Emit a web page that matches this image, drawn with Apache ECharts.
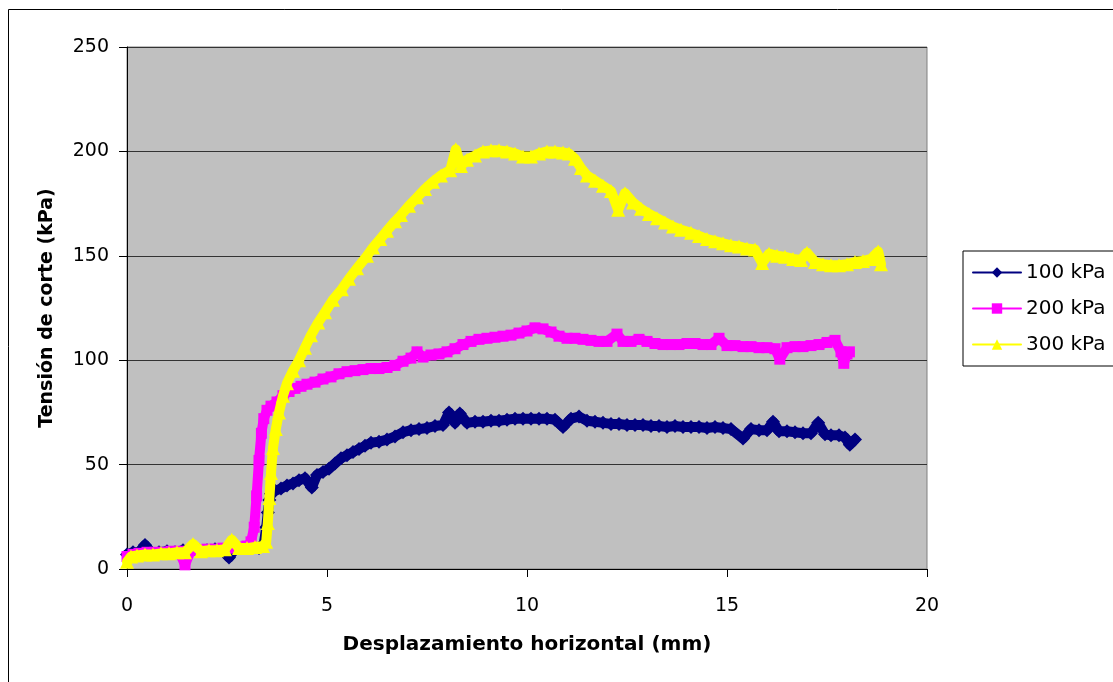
<!DOCTYPE html>
<html>
<head>
<meta charset="utf-8">
<script src="https://cdn.jsdelivr.net/npm/echarts@6/dist/echarts.min.js"></script>
<style>html,body{margin:0;padding:0;background:#fff}#c{width:1113px;height:682px}</style>
</head>
<body>
<div id="c"></div>
<script>
// ---- Data ----
const seriesNames = ['100 kPa', '200 kPa', '300 kPa'];
const xTicks = [0, 5, 10, 15, 20];
const yTicks = [0, 50, 100, 150, 200, 250];

const x100 = [0.00,0.15,0.30,0.45,0.60,0.80,1.00,1.20,1.40,1.60,1.80,2.00,2.20,2.40,2.55,2.70,2.90,3.10,3.30,3.42,3.48,3.52,3.56,3.60,3.70,3.85,4.00,4.15,4.30,4.45,4.62,4.75,4.90,5.05,5.20,5.35,5.50,5.65,5.80,5.95,6.10,6.30,6.50,6.70,6.90,7.10,7.30,7.50,7.70,7.90,8.05,8.20,8.32,8.50,8.70,8.90,9.10,9.30,9.50,9.70,9.90,10.10,10.30,10.50,10.70,10.90,11.10,11.30,11.50,11.70,11.90,12.10,12.30,12.50,12.70,12.90,13.10,13.30,13.50,13.70,13.90,14.10,14.30,14.50,14.70,14.90,15.10,15.40,15.60,15.80,16.00,16.15,16.30,16.50,16.70,16.90,17.10,17.28,17.45,17.60,17.80,17.95,18.07,18.20];
const y100 = [7,8,8,11.5,8,8,8.5,8,9,8.5,9,9,9.5,9,5.5,9.5,10,10,10,12,20,27,33,36,37.5,38.5,40,41,42.5,43.5,39,45,46.5,48,50.5,53,54.5,56,57.5,59,60.5,61,62,63.5,65.5,66.5,67,67.5,68.5,69,75,70,74.5,70,70.5,70.5,71,71,71.5,72,72,72,72,72,71.5,68,72,73,71,70.5,70,69.5,69.5,69,69,69,68.5,68.5,68,68.5,68,68,68,67.5,68,67.5,67,62.5,67,66.5,66.5,70.5,66,66,65.5,65,65,70,64.5,64,64,63,59.5,62];

const x200 = [0.00,0.15,0.30,0.50,0.70,0.90,1.10,1.30,1.45,1.60,1.80,2.00,2.20,2.40,2.60,2.80,3.00,3.10,3.18,3.24,3.30,3.36,3.42,3.50,3.60,3.75,3.90,4.05,4.20,4.35,4.50,4.70,4.90,5.10,5.30,5.50,5.70,5.90,6.10,6.30,6.50,6.70,6.90,7.10,7.25,7.40,7.60,7.80,8.00,8.20,8.40,8.60,8.80,9.00,9.20,9.40,9.60,9.80,10.00,10.20,10.40,10.60,10.80,11.00,11.20,11.40,11.60,11.80,12.00,12.25,12.40,12.60,12.80,13.00,13.20,13.40,13.60,13.80,14.00,14.20,14.40,14.60,14.80,15.00,15.20,15.40,15.60,15.80,16.00,16.20,16.32,16.50,16.70,16.90,17.10,17.30,17.50,17.70,17.85,17.92,18.00,18.06];
const y200 = [6,7,7.5,8,8,8,8.5,8.5,2,9,9,9.5,9.5,10,10,10.5,11,13,20,35,52,65,72,76,78,80,83,85,86.5,87.5,88.5,89.5,91,92,93.5,94.5,95,95.5,96,96,96.5,97.5,99.5,101,104,101.5,102.5,103,104,105.5,107.5,109,110,110.5,111,111.5,112,113,114,115.5,115,113.5,111.5,110.5,110.5,110,109.5,109,109,112.5,109,109,110,109,108,107.5,107.5,107.5,108,108,107.5,107.5,110.5,107,107,106.5,106.5,106,106,105.5,100.5,106,106.5,106.5,107,107.5,108.5,109.5,104,98.5,103,104];

const x300 = [0.00,0.10,0.25,0.45,0.65,0.85,1.05,1.25,1.45,1.65,1.85,2.05,2.25,2.45,2.62,2.80,3.00,3.20,3.40,3.48,3.52,3.56,3.60,3.65,3.72,3.80,3.90,4.00,4.15,4.30,4.45,4.60,4.78,4.95,5.15,5.37,5.55,5.75,6.00,6.15,6.33,6.50,6.70,6.85,7.05,7.25,7.45,7.65,7.85,8.08,8.22,8.35,8.50,8.70,8.90,9.10,9.30,9.50,9.70,9.90,10.10,10.30,10.50,10.70,10.90,11.05,11.20,11.35,11.50,11.70,11.90,12.10,12.28,12.45,12.65,12.85,13.05,13.25,13.45,13.65,13.85,14.10,14.30,14.50,14.70,14.90,15.10,15.30,15.50,15.70,15.88,16.05,16.25,16.45,16.65,16.85,17.00,17.20,17.40,17.60,17.80,18.00,18.20,18.40,18.60,18.78,18.85];
const y300 = [3.5,6,6.5,7,7,7.5,7.5,8,8,12,8.5,9,9,9.5,14,10,10,10.5,11,13,22,34,46,58,67,75,83,89,95,100,106,112,118,123,129,134,139,144,150,154,158,162,166.5,169.5,174,178,182,185.5,188.5,191,201,193,196,198,200,200.5,200.5,200,199,197.5,197.5,199,200,200,199.5,199,196.5,192,188.5,186,183.5,181,172,180,175.5,172.5,170,168,166,164,162.5,161,159.5,158,157,156,155,154.5,153.5,153,146.5,151,150,149.5,148.5,148,151.5,147,146,145.5,145.5,146,147,147.5,148.5,152,146];

const seriesColors = ['#000080', '#FF00FF', '#FFFF00'];
const seriesSymbols = ['diamond', 'rect', 'triangle'];

function pairs(xs, ys) { return xs.map((x, i) => [x, ys[i]]); }
const dataSets = [pairs(x100, y100), pairs(x200, y200), pairs(x300, y300)];

const FONT = 'DejaVu Sans';
const chart = echarts.init(document.getElementById('c'), null, {renderer: 'canvas'});

const symbolSizes = [14, 11, 14];
const series = seriesNames.map((name, i) => ({
  name: name,
  type: 'line',
  data: dataSets[i],
  symbol: seriesSymbols[i],
  symbolSize: symbolSizes[i],
  showAllSymbol: true,
  color: seriesColors[i],
  itemStyle: {color: seriesColors[i], borderWidth: 0},
  lineStyle: {color: seriesColors[i], width: 10, join: 'round', cap: 'round'},
  emphasis: {disabled: true},
  z: 2 + i
}));

chart.setOption({
  animation: false,
  backgroundColor: '#ffffff',
  textStyle: {fontFamily: FONT},
  graphic: [{
    type: 'rect',
    shape: {x: 8.5, y: 9.5, width: 1300, height: 900},
    style: {fill: 'none', stroke: '#000', lineWidth: 1},
    silent: true, z: -10
  }],
  grid: {
    left: 127, top: 47, right: 186, bottom: 113,
    show: true, backgroundColor: '#C0C0C0', borderColor: '#808080', borderWidth: 1
  },
  legend: {
    orient: 'vertical',
    left: 963, top: 251,
    padding: [11, 40, 11, 9],
    itemGap: 15,
    itemWidth: 48, itemHeight: 13,
    borderColor: '#000', borderWidth: 1,
    backgroundColor: '#fff',
    lineStyle: {width: 2},
    textStyle: {fontFamily: FONT, fontSize: 20, color: '#000', lineHeight: 21},
    data: seriesNames
  },
  xAxis: {
    type: 'value', min: xTicks[0], max: xTicks[xTicks.length - 1], interval: 5,
    name: 'Desplazamiento horizontal (mm)',
    nameLocation: 'middle', nameGap: 66,
    nameTextStyle: {fontFamily: FONT, fontSize: 20, fontWeight: 'bold', color: '#000'},
    axisLine: {show: true, onZero: false, lineStyle: {color: '#000', width: 1}},
    axisTick: {show: true, inside: false, length: 8, lineStyle: {color: '#000'}},
    axisLabel: {fontFamily: FONT, fontSize: 19, color: '#000', margin: 28},
    splitLine: {show: false}
  },
  yAxis: {
    type: 'value', min: yTicks[0], max: yTicks[yTicks.length - 1], interval: 50,
    name: 'Tensión de corte (kPa)',
    nameLocation: 'middle', nameGap: 70, nameRotate: 90,
    nameTextStyle: {fontFamily: FONT, fontSize: 19, fontWeight: 'bold', color: '#000'},
    axisLine: {show: true, onZero: false, lineStyle: {color: '#000', width: 1}},
    axisTick: {show: true, inside: false, length: 8, lineStyle: {color: '#000'}},
    axisLabel: {fontFamily: FONT, fontSize: 19, color: '#000', margin: 18},
    splitLine: {show: true, lineStyle: {color: '#333', width: 1}}
  },
  series: series
});
</script>
</body>
</html>
